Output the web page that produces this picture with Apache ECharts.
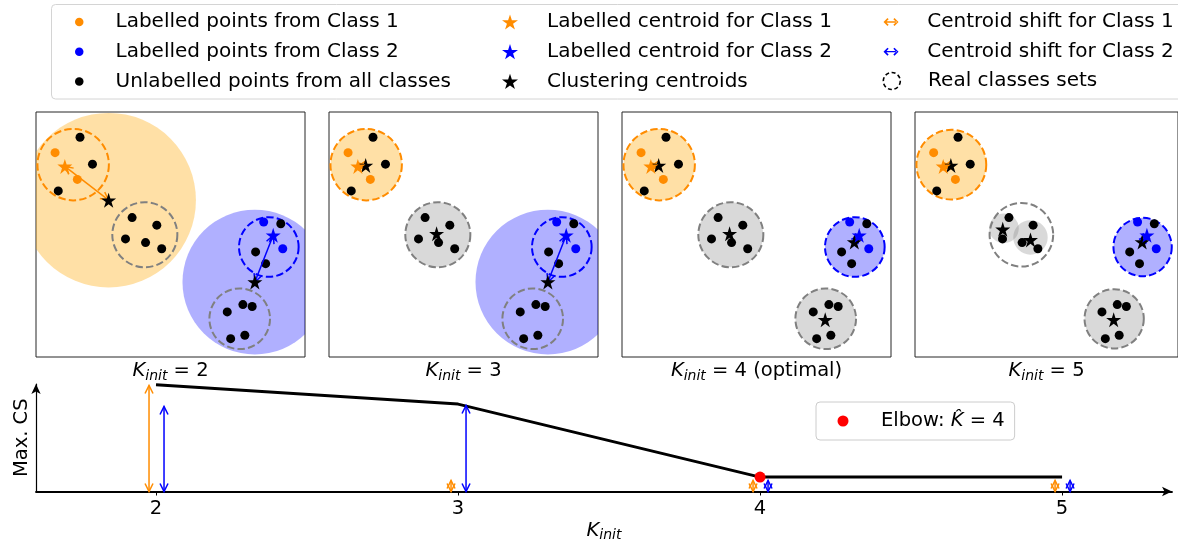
<!DOCTYPE html>
<html><head><meta charset="utf-8">
<script src="https://cdn.jsdelivr.net/npm/echarts@6/dist/echarts.min.js"></script>
<style>html,body{margin:0;padding:0;background:#fff}#chart{width:1178px;height:544px}</style>
</head><body><div id="chart"></div>
<script>
// ---------------- DATA ----------------
// panel coordinates are in arbitrary feature units (x 0..11, y 0..10)
const kInit = [2, 3, 4, 5];
const panelNotes = ['', '', ' (optimal)', ''];
const class1Points = [[0.78, 8.34], [1.69, 7.25]];
const class2Points = [[9.31, 5.51], [10.09, 4.42]];
const unlabelledPoints = [
  [1.80, 8.97], [2.31, 7.87], [0.91, 6.78],
  [3.93, 5.69], [4.94, 5.38], [3.66, 4.82], [4.48, 4.67], [5.14, 4.42],
  [10.01, 5.44], [8.98, 4.29], [9.39, 3.81],
  [7.82, 1.84], [8.46, 2.14], [8.84, 2.06], [7.96, 0.75], [8.54, 0.89]
];
const class1Centroid = [1.18, 7.78];
const class2Centroid = [9.70, 4.97];
// real class sets: [centerX, centerY, radius, classId]  (0 = class 1, 1 = class 2, 2 = unlabelled)
const realClassSets = [[1.52, 7.85, 1.46, 0], [4.45, 4.99, 1.33, 2], [9.52, 4.49, 1.22, 1], [8.33, 1.56, 1.24, 2]];
// clustering centroids per K_init
const centroidsK2 = [[2.97, 6.40], [8.95, 3.06]];
const centroidsK3 = [[1.50, 7.82], [4.40, 5.03], [8.95, 3.06]];
const centroidsK4 = [[1.50, 7.82], [4.40, 5.03], [9.50, 4.69], [8.31, 1.52]];
const centroidsK5 = [[1.50, 7.82], [3.67, 5.21], [4.83, 4.78], [9.50, 4.69], [8.31, 1.52]];
// clusters found: [centerX, centerY, radius, classId]
const clustersK2 = [[2.97, 6.40, 3.57, 0], [8.95, 3.06, 2.96, 1]];
const clustersK3 = [[1.52, 7.85, 1.46, 0], [4.45, 4.99, 1.33, 2], [8.95, 3.06, 2.96, 1]];
const clustersK4 = [[1.52, 7.85, 1.46, 0], [4.45, 4.99, 1.33, 2], [9.52, 4.49, 1.22, 1], [8.33, 1.56, 1.24, 2]];
const clustersK5 = [[1.52, 7.85, 1.46, 0], [3.72, 5.25, 0.62, 2], [4.83, 4.88, 0.72, 2], [9.52, 4.49, 1.22, 1], [8.33, 1.56, 1.24, 2]];
// centroid the labelled centroid is shifted to, per K_init
const shiftTargetClass1 = [[2.97, 6.40], [1.50, 7.82], [1.50, 7.82], [1.50, 7.82]];
const shiftTargetClass2 = [[8.95, 3.06], [8.95, 3.06], [9.50, 4.69], [9.50, 4.69]];
// bottom chart
const maxCS = [1.067, 0.874, 0.144, 0.144];
const shiftClass1 = [1.06, 0.11, 0.11, 0.11];
const shiftClass2 = [0.85, 0.86, 0.11, 0.11];
const elbowK = 4;
const xTicks = [2, 3, 4, 5];
// legend labels
const legendCol1 = ['Labelled points from Class 1', 'Labelled points from Class 2', 'Unlabelled points from all classes'];
const legendCol2 = ['Labelled centroid for Class 1', 'Labelled centroid for Class 2', 'Clustering centroids'];
const legendCol3 = ['Centroid shift for Class 1', 'Centroid shift for Class 2'];
const legendSets = 'Real classes sets';

// ---------------- STYLE ----------------
const FONT = 'DejaVu Sans';
const FS = 19.5, LFS = 20;
const ORANGE = '#FF8C00', BLUE = '#0000FF', GREY = '#808080';
const fillColors = ['rgba(255,165,0,0.35)', 'rgba(0,0,255,0.31)', 'rgba(128,128,128,0.3)'];
const strokeColors = [ORANGE, BLUE, GREY];
const STAR = 'path://M0,-10L2.245,-3.09L9.511,-3.09L3.633,1.18L5.878,8.09L0,3.82L-5.878,8.09L-3.633,1.18L-9.511,-3.09L-2.245,-3.09Z';
const DARROW = 'path://M4,6.7L26,6.7L26,9.3L4,9.3Z M0,8L8,0L10.3,2.3L4.6,8L10.3,13.7L8,16Z M30,8L22,0L19.7,2.3L25.4,8L19.7,13.7L22,16Z';
const centroidsByPanel = [centroidsK2, centroidsK3, centroidsK4, centroidsK5];
const clustersByPanel = [clustersK2, clustersK3, clustersK4, clustersK5];
const panelLefts = [36, 329, 622, 915];

function fillRender(params, api) {
  const c = api.coord([api.value(0), api.value(1)]);
  const r = api.size([api.value(2), 0])[0];
  return { type: 'circle', shape: { cx: c[0], cy: c[1], r: r }, style: { fill: fillColors[api.value(3)], stroke: 'none' } };
}
function dashedRender(params, api) {
  const c = api.coord([api.value(0), api.value(1)]);
  const r = api.size([api.value(2), 0])[0];
  return { type: 'circle', shape: { cx: c[0], cy: c[1], r: r }, style: { fill: 'none', stroke: strokeColors[api.value(3)], lineWidth: 2, lineDash: [7.4, 3.2] } };
}
function makeArrowRender(offsetPx) {
  return function (params, api) {
    const a = api.coord([api.value(0), api.value(1)]);
    const b = api.coord([api.value(2), api.value(3)]);
    a[0] += offsetPx; b[0] += offsetPx;
    const color = api.visual('color');
    let dx = b[0] - a[0], dy = b[1] - a[1];
    const len = Math.hypot(dx, dy) || 1; dx /= len; dy /= len;
    const hl = 8, hw = 4;
    const head = (p, ux, uy) => [[p[0] - ux * hl - uy * hw, p[1] - uy * hl + ux * hw], [p[0], p[1]], [p[0] - ux * hl + uy * hw, p[1] - uy * hl - ux * hw]];
    const st = () => ({ stroke: color, lineWidth: 1.5, fill: 'none' });
    return { type: 'group', children: [
      { type: 'line', shape: { x1: a[0], y1: a[1], x2: b[0], y2: b[1] }, style: st() },
      { type: 'polyline', shape: { points: head(b, dx, dy) }, style: st() },
      { type: 'polyline', shape: { points: head(a, -dx, -dy) }, style: st() }
    ] };
  };
}

const grids = [], xAxes = [], yAxes = [], series = [];
const subRich = {
  k: { fontStyle: 'italic', fontSize: FS, lineHeight: 24, fontFamily: FONT, color: '#000' },
  s: { fontStyle: 'italic', fontSize: 14, lineHeight: 14, verticalAlign: 'bottom', fontFamily: FONT, color: '#000' },
  t: { fontSize: FS, lineHeight: 24, fontFamily: FONT, color: '#000' }
};
const dot = (c) => ({ color: c, opacity: 1 });
for (let p = 0; p < 4; p++) {
  grids.push({ left: panelLefts[p], top: 112, width: 269, height: 245, show: true, borderColor: '#262626', borderWidth: 1, backgroundColor: 'rgba(0,0,0,0)' });
  xAxes.push({ gridIndex: p, type: 'value', min: 0, max: 11, axisLine: { show: false }, axisTick: { show: false }, axisLabel: { show: false }, splitLine: { show: false },
    name: '{k|K}{s|init}{t| = ' + kInit[p] + panelNotes[p] + '}', nameLocation: 'middle', nameGap: 2,
    nameTextStyle: { fontFamily: FONT, fontSize: FS, color: '#000', rich: subRich } });
  yAxes.push({ gridIndex: p, type: 'value', min: 0, max: 10, show: false });
  const ax = { xAxisIndex: p, yAxisIndex: p };
  series.push(Object.assign({ type: 'custom', name: 'clusters', clip: true, silent: true, z: 1, renderItem: fillRender, data: clustersByPanel[p] }, ax));
  series.push(Object.assign({ type: 'custom', name: legendSets, clip: true, silent: true, z: 2, itemStyle: { color: '#000' }, renderItem: dashedRender, data: realClassSets }, ax));
  series.push(Object.assign({ type: 'scatter', name: legendCol1[2], symbolSize: 9, itemStyle: dot('#000'), z: 3, data: unlabelledPoints }, ax));
  series.push(Object.assign({ type: 'scatter', name: legendCol1[0], symbolSize: 9, itemStyle: dot(ORANGE), z: 3, data: class1Points }, ax));
  series.push(Object.assign({ type: 'scatter', name: legendCol1[1], symbolSize: 9, itemStyle: dot(BLUE), z: 3, data: class2Points }, ax));
  series.push(Object.assign({ type: 'custom', name: legendCol3[0], clip: true, silent: true, z: 4, itemStyle: { color: ORANGE }, renderItem: makeArrowRender(0), data: [[class1Centroid[0], class1Centroid[1], shiftTargetClass1[p][0], shiftTargetClass1[p][1]]] }, ax));
  series.push(Object.assign({ type: 'custom', name: legendCol3[1], clip: true, silent: true, z: 4, itemStyle: { color: BLUE }, renderItem: makeArrowRender(0), data: [[class2Centroid[0], class2Centroid[1], shiftTargetClass2[p][0], shiftTargetClass2[p][1]]] }, ax));
  series.push(Object.assign({ type: 'scatter', name: legendCol2[2], symbol: STAR, symbolSize: 15, itemStyle: dot('#000'), z: 5, data: centroidsByPanel[p] }, ax));
  series.push(Object.assign({ type: 'scatter', name: legendCol2[0], symbol: STAR, symbolSize: 15, itemStyle: dot(ORANGE), z: 6, data: [class1Centroid] }, ax));
  series.push(Object.assign({ type: 'scatter', name: legendCol2[1], symbol: STAR, symbolSize: 15, itemStyle: dot(BLUE), z: 6, data: [class2Centroid] }, ax));
}
// bottom chart
grids.push({ left: 36, top: 384, width: 1136, height: 107.5 });
xAxes.push({ gridIndex: 4, type: 'value', min: 1.6026, max: 5.364,
  axisLine: { show: true, onZero: false, symbol: ['none', 'arrow'], symbolSize: [7, 10], lineStyle: { color: '#000', width: 1.8 } },
  axisTick: { show: true, customValues: xTicks, length: 4, lineStyle: { color: '#000', width: 1 } },
  axisLabel: { show: true, customValues: xTicks, fontSize: FS, fontFamily: FONT, color: '#000', margin: 7 },
  splitLine: { show: false },
  name: '{k|K}{s|init}', nameLocation: 'middle', nameGap: 27, nameTextStyle: { fontFamily: FONT, fontSize: FS, color: '#000', rich: subRich } });
yAxes.push({ gridIndex: 4, type: 'value', min: 0, max: 1.075,
  axisLine: { show: true, symbol: ['none', 'arrow'], symbolSize: [7, 10], lineStyle: { color: '#000', width: 1.2 } },
  axisTick: { show: false }, axisLabel: { show: false }, splitLine: { show: false },
  name: 'Max. CS', nameLocation: 'middle', nameGap: 4, nameTextStyle: { fontFamily: FONT, fontSize: FS, color: '#000' } });
const bx = { xAxisIndex: 4, yAxisIndex: 4 };
series.push(Object.assign({ type: 'line', name: 'Max. CS', showSymbol: false, z: 3, lineStyle: { color: '#000', width: 3 }, itemStyle: { color: '#000' }, data: kInit.map((k, i) => [k, maxCS[i]]) }, bx));
series.push(Object.assign({ type: 'custom', name: legendCol3[0], silent: true, z: 4, itemStyle: { color: ORANGE }, renderItem: makeArrowRender(-7), data: kInit.map((k, i) => [k, 0, k, shiftClass1[i]]) }, bx));
series.push(Object.assign({ type: 'custom', name: legendCol3[1], silent: true, z: 4, itemStyle: { color: BLUE }, renderItem: makeArrowRender(8), data: kInit.map((k, i) => [k, 0, k, shiftClass2[i]]) }, bx));
series.push(Object.assign({ type: 'scatter', name: 'Elbow', symbolSize: 11, z: 6, itemStyle: dot('#FF0000'), data: [[elbowK, maxCS[kInit.indexOf(elbowK)]]] }, bx));

const legendText = (padLeft) => ({ fontFamily: FONT, fontSize: LFS, color: '#000', lineHeight: 22, padding: [0, 0, 0, padLeft] });
const legends = [
  { left: 75, top: 11, orient: 'vertical', padding: 0, itemWidth: 8.5, itemHeight: 8.5, itemGap: 7.7, textStyle: legendText(27),
    data: legendCol1.map(n => ({ name: n, icon: 'circle' })) },
  { left: 502, top: 11, orient: 'vertical', padding: 0, itemWidth: 16, itemHeight: 16, itemGap: 7.7, textStyle: legendText(24),
    data: legendCol2.map(n => ({ name: n, icon: STAR })) },
  { left: 883.5, top: 11, orient: 'vertical', padding: 0, itemWidth: 15, itemHeight: 8, itemGap: 7.7, textStyle: legendText(23.8),
    data: legendCol3.map(n => ({ name: n, icon: DARROW })) },
  { left: 882.5, top: 70, orient: 'vertical', padding: 0, itemWidth: 17, itemHeight: 17, textStyle: legendText(22.8),
    data: [{ name: legendSets, icon: 'circle', itemStyle: { color: 'rgba(0,0,0,0)', borderColor: '#000', borderWidth: 1.6, borderType: [4, 2.6] } }] },
  { left: 816, top: 402, orient: 'horizontal', padding: [8, 10, 8, 21.5], itemWidth: 11, itemHeight: 11,
    backgroundColor: '#fff', borderColor: '#cccccc', borderWidth: 1, borderRadius: 4,
    data: [{ name: 'Elbow', icon: 'circle' }],
    formatter: () => 'Elbow: {k|K\u0302} = ' + elbowK,
    textStyle: Object.assign(legendText(27.5), { fontSize: FS, rich: { k: { fontStyle: 'italic', fontFamily: FONT, fontSize: FS, color: '#000', lineHeight: 22 } } }) }
];

const chart = echarts.init(document.getElementById('chart'), null, { renderer: 'canvas' });
chart.setOption({
  animation: false,
  backgroundColor: '#fff',
  textStyle: { fontFamily: FONT },
  graphic: [{ type: 'rect', silent: true, z: -1, shape: { x: 51.5, y: 4.5, width: 1160, height: 94.5, r: 4 }, style: { fill: '#fff', stroke: '#d4d4d4', lineWidth: 1 } }],
  legend: legends,
  grid: grids,
  xAxis: xAxes,
  yAxis: yAxes,
  series: series
});
</script></body></html>
